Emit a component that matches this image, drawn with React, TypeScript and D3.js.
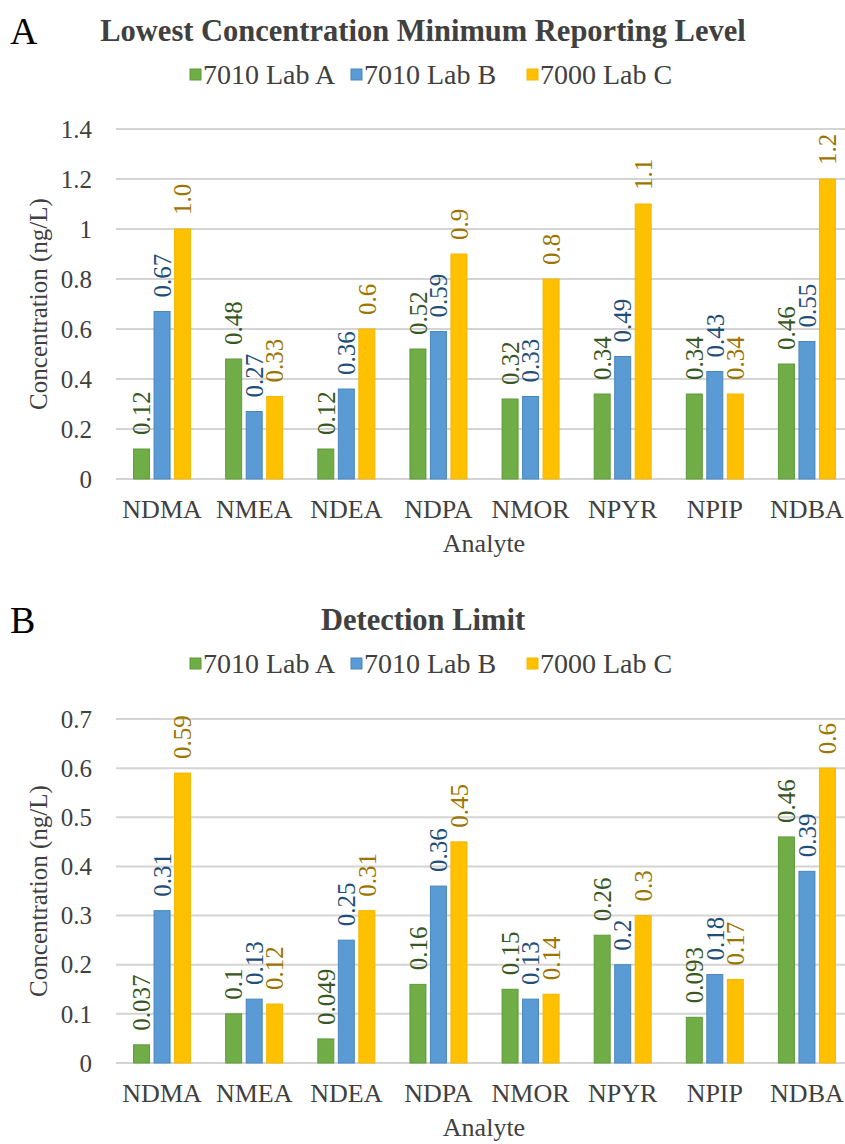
import React from 'react';
import * as d3 from 'd3';

const analytes = ['NDMA', 'NMEA', 'NDEA', 'NDPA', 'NMOR', 'NPYR', 'NPIP', 'NDBA'];
const seriesNames = ['7010 Lab A', '7010 Lab B', '7000 Lab C'];
const seriesColors = ['#70AD47', '#5B9BD5', '#FFC000'];
const seriesStrokes = ['#5E9A3A', '#4A86BE', '#F5B800'];
const labelColors = ['#385723', '#1F4E79', '#9C7500'];

// panel A: lowest concentration minimum reporting level
const mrlLabA = [0.12, 0.48, 0.12, 0.52, 0.32, 0.34, 0.34, 0.46];
const mrlLabB = [0.67, 0.27, 0.36, 0.59, 0.33, 0.49, 0.43, 0.55];
const mrlLabC = [1.0, 0.33, 0.6, 0.9, 0.8, 1.1, 0.34, 1.2];
const mrlLabelsA = ['0.12', '0.48', '0.12', '0.52', '0.32', '0.34', '0.34', '0.46'];
const mrlLabelsB = ['0.67', '0.27', '0.36', '0.59', '0.33', '0.49', '0.43', '0.55'];
const mrlLabelsC = ['1.0', '0.33', '0.6', '0.9', '0.8', '1.1', '0.34', '1.2'];
const mrlTicks = [0, 0.2, 0.4, 0.6, 0.8, 1, 1.2, 1.4];
const mrlTickLabels = ['0', '0.2', '0.4', '0.6', '0.8', '1', '1.2', '1.4'];

// panel B: detection limit
const dlLabA = [0.037, 0.1, 0.049, 0.16, 0.15, 0.26, 0.093, 0.46];
const dlLabB = [0.31, 0.13, 0.25, 0.36, 0.13, 0.2, 0.18, 0.39];
const dlLabC = [0.59, 0.12, 0.31, 0.45, 0.14, 0.3, 0.17, 0.6];
const dlLabelsA = ['0.037', '0.1', '0.049', '0.16', '0.15', '0.26', '0.093', '0.46'];
const dlLabelsB = ['0.31', '0.13', '0.25', '0.36', '0.13', '0.2', '0.18', '0.39'];
const dlLabelsC = ['0.59', '0.12', '0.31', '0.45', '0.14', '0.3', '0.17', '0.6'];
const dlTicks = [0, 0.1, 0.2, 0.3, 0.4, 0.5, 0.6, 0.7];
const dlTickLabels = ['0', '0.1', '0.2', '0.3', '0.4', '0.5', '0.6', '0.7'];

const FONT = '"Liberation Serif", "Times New Roman", serif';

const x0 = d3.scaleBand<string>().domain(analytes).range([116, 853]).padding(0);
const groupW = 61.5;
const x1 = d3
  .scaleBand<number>()
  .domain([0, 1, 2])
  .range([(x0.bandwidth() - groupW) / 2, (x0.bandwidth() + groupW) / 2])
  .paddingInner(0.22)
  .paddingOuter(0.11);

type PanelProps = {
  letter: string;
  title: string;
  top: number;
  yMax: number;
  plotTop: number;
  plotBottom: number;
  values: number[][];
  labels: string[][];
  ticks: number[];
  tickLabels: string[];
};

const Panel = ({ letter, title, top, yMax, plotTop, plotBottom, values, labels, ticks, tickLabels }: PanelProps) => {
  const y = d3.scaleLinear().domain([0, yMax]).range([plotBottom, plotTop]);
  const legendX = [190, 351, 527];
  return (
    <g>
      <text x={10} y={top + 44} fontFamily={FONT} fontSize={38}>{letter}</text>
      <text x={423} y={top + 41} textAnchor="middle" fontFamily={FONT} fontSize={30.5} fontWeight="bold" fill="#404040">
        {title}
      </text>
      {seriesNames.map((s, i) => (
        <g key={s}>
          <rect x={legendX[i]} y={top + 69} width={11} height={11} fill={seriesColors[i]} stroke={seriesStrokes[i]} />
          <text x={legendX[i] + 13} y={top + 84} fontFamily={FONT} fontSize={28} fill="#404040">{s}</text>
        </g>
      ))}
      {ticks.map((t, i) => (
        <g key={t}>
          <line x1={116} x2={853} y1={y(t)} y2={y(t)} stroke="#D4D4D4" strokeWidth={2} />
          <text x={92} y={y(t)} dy="0.35em" textAnchor="end" fontFamily={FONT} fontSize={25} fill="#404040">
            {tickLabels[i]}
          </text>
        </g>
      ))}
      {analytes.map((a, ci) => (
        <g key={a} transform={`translate(${x0(a)},0)`}>
          {values.map((vals, si) => (
            <rect
              key={si}
              x={x1(si)}
              y={y(vals[ci])}
              width={x1.bandwidth()}
              height={plotBottom - y(vals[ci])}
              fill={seriesColors[si]}
              stroke={seriesStrokes[si]}
              strokeWidth={1}
            />
          ))}
          {values.map((vals, si) => (
            <text
              key={'l' + si}
              transform={`translate(${(x1(si) as number) + x1.bandwidth() / 2},${y(vals[ci]) - 14}) rotate(-90)`}
              dy="0.35em"
              fontFamily={FONT}
              fontSize={25}
              fill={labelColors[si]}
            >
              {labels[si][ci]}
            </text>
          ))}
          <text x={x0.bandwidth() / 2} y={plotBottom + 39} textAnchor="middle" fontFamily={FONT} fontSize={26} fill="#404040">
            {a}
          </text>
        </g>
      ))}
      <text x={484} y={plotBottom + 73} textAnchor="middle" fontFamily={FONT} fontSize={26} fill="#404040">Analyte</text>
      <text
        transform={`translate(38,${(plotTop + plotBottom) / 2}) rotate(-90)`}
        dy="0.35em"
        textAnchor="middle"
        fontFamily={FONT}
        fontSize={25}
        fill="#404040"
      >
        Concentration (ng/L)
      </text>
    </g>
  );
};

export default function App() {
  return (
    <svg
      width={845}
      height={1144}
      style={{ position: 'absolute', left: 0, top: 0, background: '#fff' }}
    >
      <rect width={845} height={1144} fill="#fff" />
      <Panel
        letter="A"
        title="Lowest Concentration  Minimum Reporting Level"
        top={0}
        yMax={1.4}
        plotTop={129}
        plotBottom={479}
        values={[mrlLabA, mrlLabB, mrlLabC]}
        labels={[mrlLabelsA, mrlLabelsB, mrlLabelsC]}
        ticks={mrlTicks}
        tickLabels={mrlTickLabels}
      />
      <Panel
        letter="B"
        title="Detection Limit"
        top={589}
        yMax={0.7}
        plotTop={719}
        plotBottom={1063}
        values={[dlLabA, dlLabB, dlLabC]}
        labels={[dlLabelsA, dlLabelsB, dlLabelsC]}
        ticks={dlTicks}
        tickLabels={dlTickLabels}
      />
    </svg>
  );
}
